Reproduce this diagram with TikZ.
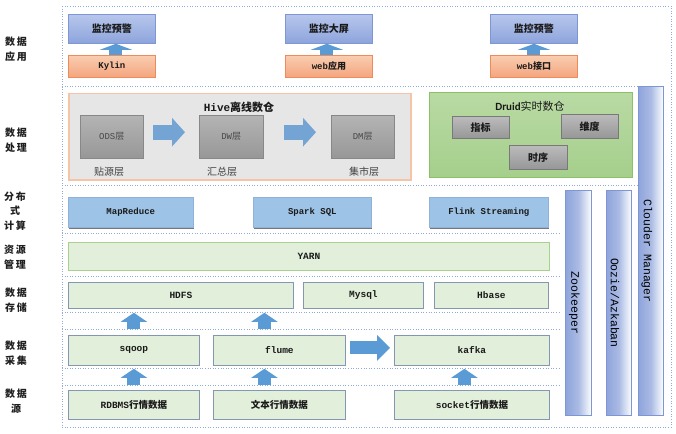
\documentclass[tikz,border=0pt]{standalone}
\usepackage{fontspec}
\setmainfont{Noto Sans CJK SC}
\setmonofont{Liberation Mono}
\newfontfamily\calib{Carlito}
\usetikzlibrary{arrows.meta,shadows}
\newcommand\tlat[1]{{\ttfamily\bfseries #1}}
\definecolor{sepc}{HTML}{8FAADC}
\definecolor{topA}{HTML}{B7C6EC}
\definecolor{topB}{HTML}{8DA4DC}
\definecolor{topD}{HTML}{7F96D4}
\definecolor{orA}{HTML}{F9CDB0}
\definecolor{orB}{HTML}{F4A57E}
\definecolor{orD}{HTML}{EF8B5A}
\definecolor{arrowblue}{HTML}{5B9BD5}
\definecolor{hivearrow}{HTML}{74A4D4}
\definecolor{hivebg}{HTML}{E7E6E6}
\definecolor{hiveD}{HTML}{F6C4A5}
\definecolor{greyA}{HTML}{B4B4B4}
\definecolor{greyB}{HTML}{979797}
\definecolor{drA}{HTML}{B9DAA4}
\definecolor{drB}{HTML}{A5CF8C}
\definecolor{drD}{HTML}{8CC168}
\definecolor{compF}{HTML}{9DC3E6}
\definecolor{compD}{HTML}{8FB1DA}
\definecolor{lgF}{HTML}{E2EFDA}
\definecolor{yarnD}{HTML}{A9D18E}
\definecolor{lgD}{HTML}{8497B0}
\definecolor{colA}{HTML}{8EA4DB}
\definecolor{colD}{HTML}{7F96D4}
\definecolor{txt}{HTML}{1A1A1A}
\begin{document}
\begin{tikzpicture}[x=1pt,y=-1pt,
  bx/.style={anchor=north west, inner sep=0pt, align=center, text=txt},
  topbox/.style={bx, draw=topD, line width=0.8pt, top color=topA, bottom color=topB, font=\bfseries\fontsize{10}{12}\selectfont},
  orbox/.style={bx, draw=orD, line width=0.8pt, top color=orA, bottom color=orB, font=\bfseries\fontsize{9}{11}\selectfont},
  greybox/.style={bx, draw=greyB!90!black, line width=0.4pt, top color=greyA, bottom color=greyB, text=black!72, font=\fontsize{9}{11}\selectfont},
  drsub/.style={bx, draw=greyB!80!black, line width=0.4pt, top color=greyA!90!white, bottom color=greyB, font=\bfseries\fontsize{10}{12}\selectfont,
     drop shadow={shadow xshift=0.8pt, shadow yshift=-1.2pt, opacity=0.6, fill=black!70}},
  compbox/.style={bx, draw=compD, line width=0.6pt, fill=compF, font=\fontsize{9}{11}\selectfont,
     drop shadow={shadow xshift=1pt, shadow yshift=-1.5pt, opacity=0.7, fill=black!75}},
  lgbox/.style={bx, draw=lgD, line width=0.8pt, fill=lgF, font=\fontsize{9.5}{11}\selectfont},
  colbox/.style={bx, draw=colD, line width=0.8pt, left color=colA, right color=white, middle color=colA!75!white},
  collab/.style={rotate=-90, font=\ttfamily\fontsize{11.5}{12}\selectfont, text=black},
  sidelab/.style={align=center, inner sep=0pt, text=black!88, font=\bfseries\fontsize{10}{14.5}\selectfont},
  sepline/.style={sepc, line width=0.6pt, dotted},
  toparr/.style={arrowblue, line width=13pt, -{Triangle[length=6pt,width=32pt]}},
  uparr/.style={arrowblue, line width=13pt, -{Triangle[length=9pt,width=26pt]}},
  rarr/.style={arrowblue, line width=13pt, -{Triangle[length=13pt,width=25pt]}},
  hivearr/.style={hivearrow, line width=15pt, -{Triangle[length=13pt,width=28pt]}}
]
\useasboundingbox[fill=white] (0,0) rectangle (676,433);

% layer separators
\draw[sepline] (62,6) rectangle (671,427);
\draw[sepline] (62,86) -- (637,86);
\draw[sepline] (62,185) -- (637,185);
\foreach \yy in {233,276,312,329,368,385} \draw[sepline] (62,\yy) -- (560,\yy);

% side labels
\node[sidelab] (s1) at (16,49) {数\,据\\应\,用};
\node[sidelab] (s2) at (16,140) {数\,据\\处\,理};
\node[sidelab] (s3) at (15,211) {分\,布\\式\\计\,算};
\node[sidelab] (s4) at (15,257) {资\,源\\管\,理};
\node[sidelab] (s5) at (16,300) {数\,据\\存\,储};
\node[sidelab] (s6) at (16,353) {数\,据\\采\,集};
\node[sidelab] (s7) at (16,401) {数\,据\\源};

% application layer
\node[topbox, minimum width=87pt, minimum height=29pt] (warn1) at (68,14) {监控预警};
\node[orbox, minimum width=87pt, minimum height=22pt] (kylin) at (68,55) {\tlat{Kylin}};
\node[topbox, minimum width=87pt, minimum height=29pt] (screen) at (285,14) {监控大屏};
\node[orbox, minimum width=87pt, minimum height=22pt] (webapp) at (285,55) {\tlat{web}应用};
\node[topbox, minimum width=87pt, minimum height=29pt] (warn2) at (490,14) {监控预警};
\node[orbox, minimum width=87pt, minimum height=22pt] (webif) at (490,55) {\tlat{web}接口};
\draw[toparr] ([xshift=4pt]kylin.north) -- ([xshift=4pt]warn1.south);
\draw[toparr] ([xshift=-2pt]webapp.north) -- ([xshift=-2pt]screen.south);
\draw[toparr] (webif.north) -- (warn2.south);

% processing layer: Hive
\node[bx, draw=hiveD, line width=1.5pt, fill=hivebg, minimum width=342pt, minimum height=86pt] (hive) at (68,93) {};
\node[inner sep=0pt, text=txt, font=\bfseries\fontsize{11}{13}\selectfont] (hivet) at (239,107) {{\ttfamily Hive}离线数仓};
\node[greybox, minimum width=63pt, minimum height=43pt] (ods) at (80,115) {{\ttfamily ODS}层};
\node[greybox, minimum width=64pt, minimum height=43pt] (dw) at (199,115) {{\ttfamily DW}层};
\node[greybox, minimum width=63pt, minimum height=43pt] (dm) at (331,115) {{\ttfamily DM}层};
\node[inner sep=0pt, text=black!75, font=\fontsize{10}{12}\selectfont] (odsl) at (109,172) {贴源层};
\node[inner sep=0pt, text=black!75, font=\fontsize{10}{12}\selectfont] (dwl) at (222,172) {汇总层};
\node[inner sep=0pt, text=black!75, font=\fontsize{10}{12}\selectfont] (dml) at (364,172) {集市层};
\draw[hivearr, shorten <=10pt, shorten >=14pt] ([yshift=4.5pt]ods.east) -- ([yshift=4.5pt]dw.west);
\draw[hivearr, shorten <=21pt, shorten >=15pt] ([yshift=4.5pt]dw.east) -- ([yshift=4.5pt]dm.west);

% processing layer: Druid
\node[bx, draw=drD, line width=0.8pt, top color=drA, bottom color=drB, minimum width=203pt, minimum height=85pt] (druid) at (429,92) {};
\node[inner sep=0pt, text=txt, font=\fontsize{11}{13}\selectfont] (druidt) at (530,106) {{\calib\bfseries Druid}实时数仓};
\node[drsub, minimum width=57pt, minimum height=22pt] (zhibiao) at (452,116) {指标};
\node[drsub, minimum width=57pt, minimum height=24pt] (weidu) at (561,114) {维度};
\node[drsub, minimum width=58pt, minimum height=24pt] (shixu) at (509,145) {时序};

% side columns
\node[colbox, minimum width=25pt, minimum height=329pt,
      label={[collab, yshift=-4pt]center:Clouder Manager}] (cm) at (638,86) {};
\node[colbox, minimum width=26pt, minimum height=225pt,
      label={[collab, yshift=-4pt]center:Zookeeper}] (zk) at (565,190) {};
\node[colbox, minimum width=25pt, minimum height=225pt,
      label={[collab, yshift=-4pt]center:Oozie/Azkaban}] (oozie) at (606,190) {};

% compute layer
\node[compbox, minimum width=125pt, minimum height=30pt] (mapred) at (68,197) {\tlat{MapReduce}};
\node[compbox, minimum width=118pt, minimum height=30pt] (spark) at (253,197) {\tlat{Spark SQL}};
\node[compbox, minimum width=119pt, minimum height=30pt] (flink) at (429,197) {\tlat{Flink Streaming}};

% resource layer
\node[lgbox, draw=yarnD, minimum width=481pt, minimum height=28pt] (yarn) at (68,242) {\tlat{YARN}};

% storage layer
\node[lgbox, minimum width=225pt, minimum height=26pt] (hdfs) at (68,282) {\tlat{HDFS}};
\node[lgbox, minimum width=120pt, minimum height=26pt] (mysql) at (303,282) {\tlat{Mysql}};
\node[lgbox, minimum width=114pt, minimum height=26pt] (hbase) at (434,282) {\tlat{Hbase}};

% collection layer
\node[lgbox, minimum width=131pt, minimum height=30pt] (sqoop) at (68,335) {\tlat{sqoop}};
\node[lgbox, minimum width=132pt, minimum height=30pt] (flume) at (213,335) {\tlat{flume}};
\node[lgbox, minimum width=155pt, minimum height=30pt] (kafka) at (394,335) {\tlat{kafka}};

% source layer
\node[lgbox, minimum width=131pt, minimum height=29pt] (rdbms) at (68,390) {\tlat{RDBMS}\textbf{行情数据}};
\node[lgbox, minimum width=132pt, minimum height=29pt] (textsrc) at (213,390) {\textbf{文本行情数据}};
\node[lgbox, minimum width=155pt, minimum height=29pt] (socket) at (394,390) {\tlat{socket}\textbf{行情数据}};

% arrows
\draw[uparr, shorten <=6pt, shorten >=4pt] (sqoop.north) -- (sqoop.north |- hdfs.south);
\draw[uparr, shorten <=6pt, shorten >=4pt] ([xshift=-15pt]flume.north) -- ([xshift=-15pt]flume.north |- hdfs.south);
\draw[uparr, shorten <=5pt, shorten >=3pt] (rdbms.north) -- (sqoop.south);
\draw[uparr, shorten <=5pt, shorten >=3pt] ([xshift=-15pt]textsrc.north) -- ([xshift=-15pt]flume.south);
\draw[uparr, shorten <=5pt, shorten >=3pt] ([xshift=-7.5pt]socket.north) -- ([xshift=-7.5pt]kafka.south);
\draw[rarr, shorten <=4pt, shorten >=4pt] ([yshift=2.5pt]flume.east) -- ([yshift=2.5pt]kafka.west);
\end{tikzpicture}
\end{document}
